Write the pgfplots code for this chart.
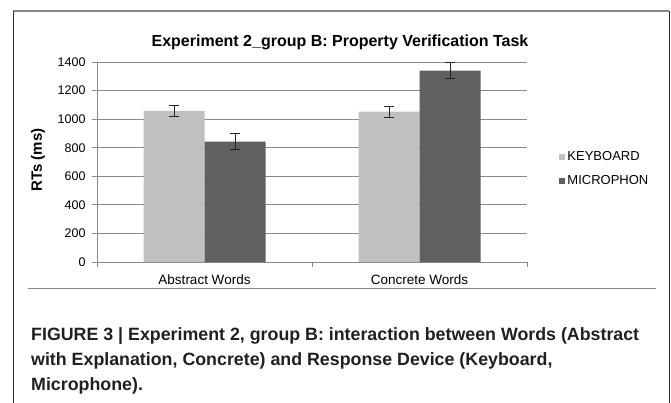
\documentclass[border=0pt]{standalone}
\usepackage{fontspec}
\setmainfont{Liberation Sans}
\newfontfamily\capfont{Liberation Sans}
\usepackage{pgfplots}
\pgfplotsset{compat=1.18}
\definecolor{kb}{HTML}{C0C0C0}
\definecolor{mic}{HTML}{606060}
\definecolor{gridc}{HTML}{8A8A8A}
\definecolor{capc}{HTML}{231F20}
\begin{document}
\begin{tikzpicture}[x=1pt,y=1pt]
\useasboundingbox (0,0) rectangle (671,403);
% frame
\draw[line width=1.6pt, gridc] (13,392) -- (669,392);
\draw[line width=0.9pt, black!80] (13,392) -- (13,0);
\draw[line width=0.9pt, black!80] (669,392) -- (669,0);
\draw[line width=0.9pt, gridc] (28,115) -- (656,115);
% title
\node[anchor=base, font=\fontsize{16}{18}\selectfont\bfseries] at (340,356) {Experiment 2\_group B: Property Verification Task};
% y label
\node[rotate=90, font=\fontsize{15}{17}\selectfont\bfseries] at (38,243) {RTs (ms)};
\begin{axis}[
  at={(97pt,141pt)}, anchor=south west,
  scale only axis, width=430pt, height=200pt,
  ybar=0pt, bar width=61pt,
  xmin=-0.5, xmax=1.5, ymin=0, ymax=1400,
  axis x line*=bottom, axis y line*=left,
  axis line style={gridc, line width=0.8pt, -},
  xtick={-0.5,0.5,1.5}, xticklabels={},
  extra x ticks={0,1},
  extra x tick labels={Abstract Words, Concrete Words},
  extra x tick style={major tick length=0pt, grid=none,
     tick label style={anchor=base, yshift=-23pt, font=\fontsize{13.5}{15}\selectfont}},
  ytick={0,200,...,1400},
  yticklabels={0,200,400,600,800,1000,1200,1400},
  yticklabel style={font=\fontsize{12.5}{14}\selectfont, anchor=east, xshift=-3pt},
  tick align=outside, major tick length=5pt,
  tick style={gridc, line width=0.8pt},
  ymajorgrids, grid style={gridc, line width=0.8pt},
  legend style={at={(1.075,0.465)}, anchor=west, draw=none, fill=none,
     font=\fontsize{13}{15}\selectfont, row sep=9pt,
     legend cell align=left, inner sep=0pt},
  legend image code/.code={\fill[#1] (0pt,-3pt) rectangle (6pt,3pt);},
  error bars/error bar style={black!85, line width=0.9pt},
  error bars/error mark=|,
  error bars/error mark options={black!85, line width=0.9pt, mark size=5pt},
]
\addplot[fill=kb, draw=none, error bars/.cd, y dir=both, y explicit]
  coordinates {(0,1058) +- (0,37) (1,1053) +- (0,38)};
\addplot[fill=mic, draw=none, error bars/.cd, y dir=both, y explicit]
  coordinates {(0,842) +- (0,57) (1,1340) +- (0,56)};
\legend{KEYBOARD, MICROPHON}
\end{axis}
% caption
\begin{scope}[every node/.style={anchor=base west, inner sep=0pt, text=capc, font=\fontsize{17.8}{20}\selectfont\capfont\bfseries}]
\node at (31,62) {FIGURE 3 | Experiment 2, group B: interaction between Words (Abstract};
\node at (31,37) {with Explanation, Concrete) and Response Device (Keyboard,};
\node at (31,12) {Microphone).};
\end{scope}
\end{tikzpicture}
\end{document}
